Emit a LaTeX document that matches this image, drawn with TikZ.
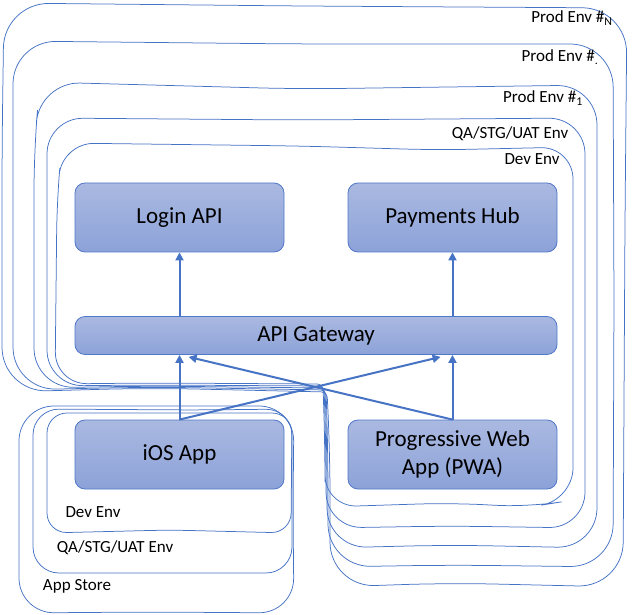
\documentclass[tikz,border=0pt]{standalone}
\usepackage{fontspec}
\setmainfont{Carlito}
\usetikzlibrary{arrows.meta,calc}
\definecolor{envc}{RGB}{68,114,196}
\definecolor{boxtop}{RGB}{170,185,225}
\definecolor{boxbot}{RGB}{140,162,216}
\definecolor{boxline}{RGB}{80,120,200}
\definecolor{arrc}{RGB}{70,115,196}
\tikzset{
  env/.style={draw=envc,line width=0.75pt},
  envlabel/.style={inner sep=0pt,font=\fontsize{17}{20}\selectfont},
  svc/.style={draw=boxline,line width=0.8pt,rounded corners=10pt,top color=boxtop,bottom color=boxbot,
    minimum width=209pt,minimum height=69pt,inner sep=0pt,align=center,
    font=\fontsize{23}{28}\selectfont},
  conn/.style={draw=arrc,line width=2pt,-{Triangle[length=8pt,width=8pt]}},
}
\begin{document}
\begin{tikzpicture}[x=1pt,y=-1pt]
\useasboundingbox (0,0) rectangle (633,615);
% server-side environments
\draw[env] (330,450) [rounded corners=6] -- (327,392) [rounded corners=45] -- (150,388) -- (2,392) -- (2,150) -- (4,3) -- (300,6) -- (627,8) -- (625,220) -- (623,587) -- (450,583) -- (330,587) -- cycle;
\draw[env] (328,450) [rounded corners=6] -- (326,390) [rounded corners=43] -- (150,387) -- (13,390) -- (13,41) -- (300,44) -- (613,44) -- (614,300) -- (613,567) -- (450,565) -- (328,567) -- cycle;
\draw[env] (327,450) [rounded corners=6] -- (325,388) [rounded corners=40] -- (150,386) -- (34,388) -- (34,150) -- (40,82) -- (300,89) -- (597,85) -- (597,548) -- (450,545) -- (327,548) -- cycle;
\draw[env] (326,450) [rounded corners=6] -- (324,386) [rounded corners=36] -- (150,385) -- (47,386) -- (47,118) -- (300,120) -- (585,118) -- (585,528) -- (450,526) -- (326,528) -- cycle;
\draw[env] (325,450) [rounded corners=6] -- (323,384) [rounded corners=32] -- (150,383) -- (55,384) -- (57,200) -- (62,143) -- (300,146) -- (438,150) -- (573,147) -- (573,500) -- (530,507) -- (450,503) -- (325,507) -- cycle;
\node[envlabel] (lN) at (572,18) {Prod Env \#\textsubscript{N}};
\node[envlabel] (lD) at (560,57) {Prod Env \#\textsubscript{.}};
\node[envlabel] (l1) at (543,98) {Prod Env \#\textsubscript{1}};
\node[envlabel] (lQ) at (510,134) {QA/STG/UAT Env};
\node[envlabel] (lDev) at (532,159) {Dev Env};
% client-side environments
\draw[env,rounded corners=35] (19,406) -- (294,406) -- (293,510) -- (294,613) -- (150,612) -- (19,613) -- cycle;
\draw[env,rounded corners=26] (33,409) -- (200,410) -- (292,409) -- (292,573) -- (33,573) -- cycle;
\draw[env,rounded corners=20] (47,413) -- (292,413) -- (291,533) -- (170,530) -- (47,533) -- cycle;
\node[envlabel] (cDev) at (93,512) {Dev Env};
\node[envlabel] (cQA) at (115,548) {QA/STG/UAT Env};
\node[envlabel] (cAS) at (77,586) {App Store};
% services
\node[svc] (login) at (179.5,217.5) {Login API};
\node[svc] (pay) at (452.5,217.5) {Payments Hub};
\node[svc,minimum width=482pt,minimum height=38pt] (gw) at (316,335.5) {API Gateway};
\node[svc] (ios) at (179.5,454.5) {iOS App};
\node[svc] (pwa) at (452.5,454.5) {Progressive Web\\App (PWA)};
% connectors
\coordinate (gwL) at ($(gw.south west)+(114,2)$);
\coordinate (gwR) at ($(gw.south west)+(366,2)$);
\draw[conn] (gw.north -| login.south) -- (login.south);
\draw[conn] (gw.north -| pay.south) -- (pay.south);
\draw[conn] (ios.north) -- (ios.north |- gw.south);
\draw[conn] (pwa.north) -- (pwa.north |- gw.south);
\draw[conn] (ios.north) -- (gwR);
\draw[conn] (pwa.north) -- (gwL);
\end{tikzpicture}
\end{document}
